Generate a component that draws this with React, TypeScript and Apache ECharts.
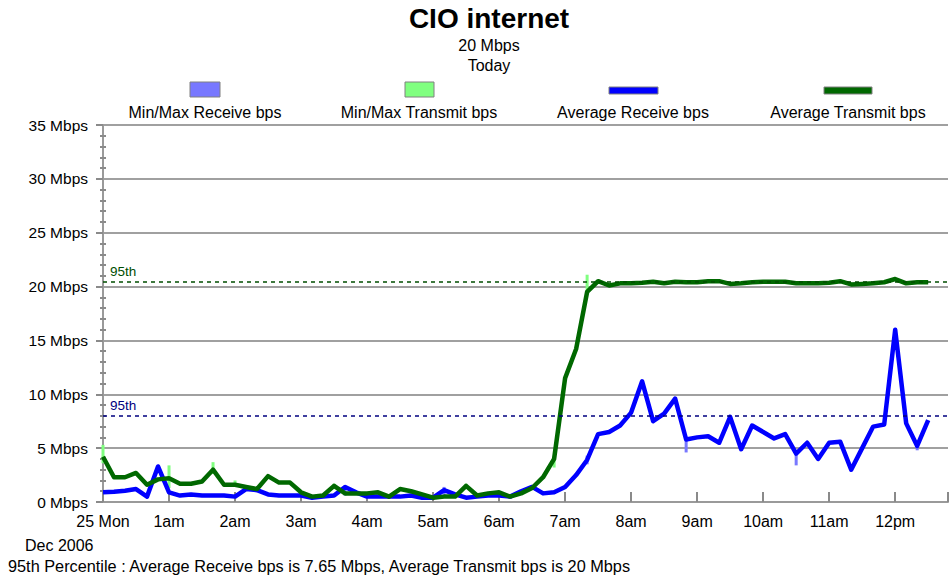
import React, { useEffect, useRef } from "react";
import * as echarts from "echarts";

const xTickLabels = ["25 Mon", "1am", "2am", "3am", "4am", "5am", "6am", "7am", "8am", "9am", "10am", "11am", "12pm"];
const sampleMinutes = 10;

const avgReceive = [
  0.9, 0.95, 1.05, 1.2, 0.5, 3.3, 0.9, 0.6, 0.7, 0.6,
  0.6, 0.6, 0.5, 1.2, 1.1, 0.7, 0.6, 0.6, 0.6, 0.4,
  0.5, 0.6, 1.4, 0.9, 0.5, 0.5, 0.5, 0.5, 0.6, 0.4,
  0.4, 1.1, 0.7, 0.4, 0.5, 0.6, 0.6, 0.5, 1.0, 1.4,
  0.8, 0.9, 1.4, 2.5, 3.9, 6.3, 6.5, 7.1, 8.3, 11.2,
  7.5, 8.2, 9.6, 5.8, 6.0, 6.1, 5.5, 7.9, 4.9, 7.1,
  6.5, 5.9, 6.3, 4.5, 5.5, 4.0, 5.5, 5.6, 3.0, 5.0,
  7.0, 7.2, 16.0, 7.3, 5.2, 7.6,
];

const avgTransmit = [
  4.2, 2.3, 2.3, 2.7, 1.6, 2.1, 2.2, 1.7, 1.7, 1.9,
  3.0, 1.6, 1.6, 1.4, 1.2, 2.4, 1.8, 1.8, 0.9, 0.5,
  0.6, 1.5, 0.8, 0.8, 0.8, 0.9, 0.5, 1.2, 1.0, 0.7,
  0.4, 0.5, 0.5, 1.5, 0.6, 0.8, 0.9, 0.5, 0.8, 1.3,
  2.3, 4.0, 11.5, 14.2, 19.5, 20.5, 20.1, 20.3, 20.3, 20.35,
  20.45, 20.3, 20.45, 20.4, 20.4, 20.5, 20.5, 20.25, 20.3, 20.4,
  20.45, 20.45, 20.45, 20.3, 20.3, 20.3, 20.35, 20.5, 20.2, 20.25,
  20.3, 20.4, 20.7, 20.3, 20.4, 20.4,
];

// [sample index, min, max] where the min/max range shows beyond the average line
const receiveMinMax = [
  [22, 0.6, 1.5], [31, 0.5, 1.4], [44, 3.5, 4.3], [53, 4.6, 5.9], [63, 3.4, 4.6], [74, 4.8, 5.3],
];
const transmitMinMax = [
  [0, 3.6, 5.3], [6, 1.3, 3.4], [10, 2.6, 3.7], [12, 1.4, 2.0], [21, 1.2, 1.7],
  [33, 1.2, 1.7], [41, 3.2, 4.3], [44, 19.5, 21.1],
];

const percentileReceive = 8.0;
const percentileTransmit = 20.45;

const legendItems = ["Min/Max Receive bps", "Min/Max Transmit bps", "Average Receive bps", "Average Transmit bps"];

const FONT = '"Liberation Sans", Arial, sans-serif';

export default function App() {
  const ref = useRef<HTMLDivElement>(null);

  useEffect(() => {
    if (!ref.current) return;
    const chart = echarts.init(ref.current, undefined, { renderer: "svg" });

    const recvData = avgReceive.map((v, i) => [i * sampleMinutes, v]);
    const sendData = avgTransmit.map((v, i) => [i * sampleMinutes, v]);
    const recvMM = receiveMinMax.map(([i, lo, hi]) => [i * sampleMinutes, lo, hi]);
    const sendMM = transmitMinMax.map(([i, lo, hi]) => [i * sampleMinutes, lo, hi]);

    const mmRender = (color: string) => (params: any, api: any) => {
      const x = api.value(0);
      const lo = api.coord([x, api.value(1)]);
      const hi = api.coord([x, api.value(2)]);
      return {
        type: "rect",
        shape: { x: lo[0] - 1.5, y: hi[1], width: 3, height: lo[1] - hi[1] },
        style: { fill: color },
      };
    };

    const textStyle = (size: number, weight = "normal") => `${weight} ${size}px ${FONT}`;

    const legendIcons = [
      { x: 190, y: 82, w: 30, h: 15, fill: "#7878ff", cx: 205 },
      { x: 405, y: 82, w: 29, h: 15, fill: "#80ff80", cx: 419 },
      { x: 609, y: 87, w: 49, h: 7, fill: "#0000ff", cx: 633 },
      { x: 824, y: 87, w: 48, h: 7, fill: "#006800", cx: 848 },
    ];

    const graphic: any[] = [
      { type: "text", x: 489, y: 18, style: { text: "CIO internet", font: textStyle(28, "bold"), fill: "#000", textAlign: "center", textVerticalAlign: "middle" } },
      { type: "text", x: 489, y: 45, style: { text: "20 Mbps", font: textStyle(16), fill: "#000", textAlign: "center", textVerticalAlign: "middle" } },
      { type: "text", x: 489, y: 65, style: { text: "Today", font: textStyle(16), fill: "#000", textAlign: "center", textVerticalAlign: "middle" } },
      { type: "text", x: 25, y: 545, style: { text: "Dec 2006", font: textStyle(16), fill: "#000", textAlign: "left", textVerticalAlign: "middle" } },
      { type: "text", x: 8, y: 566, style: { text: "95th Percentile : Average Receive bps is 7.65 Mbps, Average Transmit bps is 20 Mbps", font: textStyle(16.3), fill: "#000", textAlign: "left", textVerticalAlign: "middle" } },
    ];
    legendIcons.forEach((it, k) => {
      graphic.push({ type: "rect", shape: { x: it.x, y: it.y, width: it.w, height: it.h }, style: { fill: it.fill, stroke: "#808080", lineWidth: 1 } });
      graphic.push({ type: "text", x: it.cx, y: 112, style: { text: legendItems[k], font: textStyle(16), fill: "#000", textAlign: "center", textVerticalAlign: "middle" } });
    });

    chart.setOption({
      animation: false,
      backgroundColor: "#fff",
      grid: { left: 103, right: 0, top: 125, bottom: 76, containLabel: false },
      legend: { show: false },
      graphic,
      xAxis: {
        type: "value",
        min: 0,
        max: 768,
        interval: 60,
        axisLine: { show: true, lineStyle: { color: "#9a9a9a", width: 2 } },
        axisTick: { show: true, inside: true, length: 10, lineStyle: { color: "#8a8a8a", width: 2 } },
        axisLabel: {
          color: "#000",
          fontSize: 16,
          fontFamily: FONT,
          margin: 11,
          formatter: (v: number) => xTickLabels[Math.round(v / 60)] ?? "",
        },
        splitLine: { show: false },
      },
      yAxis: [
        {
          type: "value",
          min: 0,
          max: 35,
          interval: 5,
          offset: 3,
          axisLine: { show: true, lineStyle: { color: "#9a9a9a", width: 2 } },
          axisTick: { show: true, inside: false, length: 7, lineStyle: { color: "#8a8a8a", width: 2 } },
          axisLabel: { color: "#000", fontSize: 15.5, fontFamily: FONT, margin: 12, formatter: (v: number) => `${v} Mbps` },
          splitLine: { show: true, lineStyle: { color: "#a0a0a0", width: 2 } },
        },
        {
          type: "value",
          min: 0,
          max: 35,
          interval: 5,
          offset: 3,
          position: "left",
          axisLine: { show: false },
          axisTick: { show: false, inside: true },
          minorTick: { show: true, splitNumber: 5, length: 6, lineStyle: { color: "#8a8a8a", width: 2 } },
          axisLabel: { show: false },
          splitLine: { show: false },
        },
      ],
      series: [
        {
          name: legendItems[0],
          type: "custom",
          renderItem: mmRender("#7878ff"),
          data: recvMM,
          encode: { x: 0, y: [1, 2] },
          z: 1,
        },
        {
          name: legendItems[1],
          type: "custom",
          renderItem: mmRender("#80ff80"),
          data: sendMM,
          encode: { x: 0, y: [1, 2] },
          z: 1,
        },
        {
          name: legendItems[2],
          type: "line",
          data: recvData,
          showSymbol: false,
          symbol: "none",
          lineStyle: { color: "#0000ff", width: 4.5, join: "round" },
          z: 3,
          markLine: {
            silent: true,
            symbol: "none",
            data: [{ yAxis: percentileReceive }],
            lineStyle: { color: "#000080", type: [4, 4], width: 1.5 },
            label: { formatter: "95th", position: "insideStartTop", color: "#000080", fontSize: 13.5, fontFamily: FONT, distance: [7, 3] },
          },
        },
        {
          name: legendItems[3],
          type: "line",
          data: sendData,
          showSymbol: false,
          symbol: "none",
          lineStyle: { color: "#006800", width: 4.5, join: "round" },
          z: 4,
          markLine: {
            silent: true,
            symbol: "none",
            data: [{ yAxis: percentileTransmit }],
            lineStyle: { color: "#004d00", type: [4, 4], width: 1.5 },
            label: { formatter: "95th", position: "insideStartTop", color: "#004d00", fontSize: 13.5, fontFamily: FONT, distance: [7, 3] },
          },
        },
      ],
    });

    return () => chart.dispose();
  }, []);

  return <div ref={ref} style={{ position: "fixed", left: 0, top: 0, width: 951, height: 578 }} />;
}
